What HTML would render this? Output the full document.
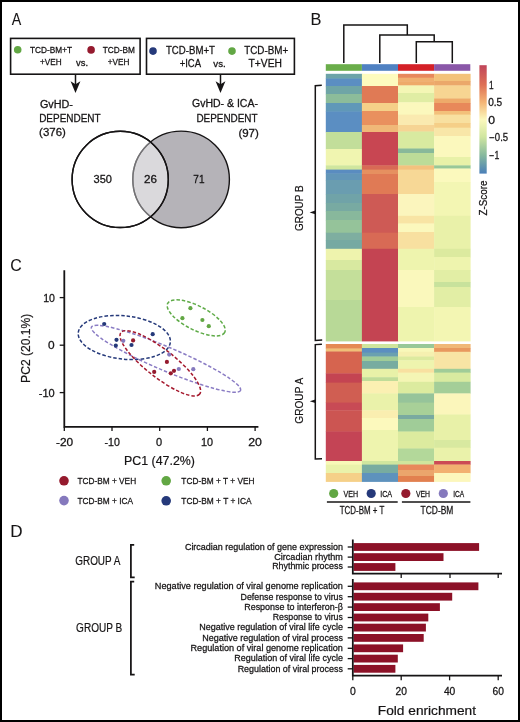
<!DOCTYPE html>
<html><head><meta charset="utf-8"><style>
html,body{margin:0;padding:0;background:#fff;}
svg{display:block;will-change:transform;}
text{font-family:"Liberation Sans",sans-serif;fill:#161415;stroke:#161415;}
</style></head><body>
<svg width="520" height="722" viewBox="0 0 520 722">
<rect x="1" y="1" width="518" height="720" fill="#fff" stroke="#000" stroke-width="2"/>
<text x="11.75" y="24.8" font-size="16" stroke-width="0.08" text-anchor="start" textLength="9.49" lengthAdjust="spacingAndGlyphs">A</text>
<rect x="10.6" y="38.4" width="129.5" height="35.8" fill="none" stroke="#161415" stroke-width="1.6"/>
<circle cx="17.7" cy="49.8" r="3.8" fill="#62a744"/>
<text x="30.00" y="53.4" font-size="9" stroke-width="0.26" text-anchor="start" textLength="42.00" lengthAdjust="spacingAndGlyphs">TCD-BM+T</text>
<text x="40.07" y="64.6" font-size="9" stroke-width="0.26" text-anchor="start" textLength="21.56" lengthAdjust="spacingAndGlyphs">+VEH</text>
<text x="76.11" y="66.3" font-size="9" stroke-width="0.26" text-anchor="start" textLength="12.05" lengthAdjust="spacingAndGlyphs">vs.</text>
<circle cx="91.1" cy="49.9" r="3.8" fill="#951a2e"/>
<text x="102.67" y="53.4" font-size="9" stroke-width="0.26" text-anchor="start" textLength="32.12" lengthAdjust="spacingAndGlyphs">TCD-BM</text>
<text x="107.76" y="64.6" font-size="9" stroke-width="0.26" text-anchor="start" textLength="21.61" lengthAdjust="spacingAndGlyphs">+VEH</text>
<rect x="146.5" y="38.4" width="147.9" height="35.8" fill="none" stroke="#161415" stroke-width="1.6"/>
<circle cx="153.0" cy="51.1" r="3.8" fill="#25397a"/>
<text x="166.00" y="53.7" font-size="10" stroke-width="0.26" text-anchor="start" textLength="48.90" lengthAdjust="spacingAndGlyphs">TCD-BM+T</text>
<text x="179.64" y="67.2" font-size="10" stroke-width="0.26" text-anchor="start" textLength="21.36" lengthAdjust="spacingAndGlyphs">+ICA</text>
<text x="213.30" y="67.0" font-size="9" stroke-width="0.26" text-anchor="start" textLength="12.42" lengthAdjust="spacingAndGlyphs">vs.</text>
<circle cx="232.0" cy="51.1" r="3.8" fill="#62a744"/>
<text x="244.26" y="53.7" font-size="10" stroke-width="0.26" text-anchor="start" textLength="44.00" lengthAdjust="spacingAndGlyphs">TCD-BM+</text>
<text x="248.59" y="67.2" font-size="10" stroke-width="0.26" text-anchor="start" textLength="33.40" lengthAdjust="spacingAndGlyphs">T+VEH</text>
<line x1="75.5" y1="74.0" x2="75.5" y2="87.0" stroke="#161415" stroke-width="1.5"/>
<path d="M70.6,81.2 L75.5,92.9 L80.4,81.2 L75.5,84.3 Z" fill="#161415"/>
<line x1="220.5" y1="74.0" x2="220.5" y2="87.0" stroke="#161415" stroke-width="1.5"/>
<path d="M215.6,81.2 L220.5,92.9 L225.4,81.2 L220.5,84.3 Z" fill="#161415"/>
<text x="39.92" y="107.7" font-size="10" stroke-width="0.26" text-anchor="start" textLength="33.03" lengthAdjust="spacingAndGlyphs">GvHD-</text>
<text x="39.16" y="121.7" font-size="10" stroke-width="0.26" text-anchor="start" textLength="61.51" lengthAdjust="spacingAndGlyphs">DEPENDENT</text>
<text x="39.14" y="135.8" font-size="10" stroke-width="0.26" text-anchor="start" textLength="26.69" lengthAdjust="spacingAndGlyphs">(376)</text>
<text x="192.06" y="107.3" font-size="10" stroke-width="0.26" text-anchor="start" textLength="65.91" lengthAdjust="spacingAndGlyphs">GvHD- &amp; ICA-</text>
<text x="196.41" y="121.5" font-size="10" stroke-width="0.26" text-anchor="start" textLength="61.14" lengthAdjust="spacingAndGlyphs">DEPENDENT</text>
<text x="238.40" y="136.5" font-size="10" stroke-width="0.26" text-anchor="start" textLength="20.48" lengthAdjust="spacingAndGlyphs">(97)</text>
<circle cx="181.1" cy="179.4" r="48.3" fill="#b5b3b8" stroke="#161415" stroke-width="1.4"/>
<circle cx="120.2" cy="179.4" r="48.1" fill="#fff" fill-opacity="0.5" stroke="#161415" stroke-width="1.4"/>
<defs><clipPath id="cl"><circle cx="120.2" cy="179.4" r="48.1"/></clipPath></defs>
<circle cx="181.1" cy="179.4" r="48.3" fill="none" stroke="#737275" stroke-width="1.4" clip-path="url(#cl)"/>
<circle cx="120.2" cy="179.4" r="48.1" fill="none" stroke="#161415" stroke-width="1.4"/>
<text x="93.55" y="183.3" font-size="10" stroke-width="0.26" text-anchor="start" textLength="18.40" lengthAdjust="spacingAndGlyphs">350</text>
<text x="144.13" y="183.4" font-size="10" stroke-width="0.26" text-anchor="start" textLength="12.92" lengthAdjust="spacingAndGlyphs">26</text>
<text x="193.33" y="183.0" font-size="10" stroke-width="0.26" text-anchor="start" textLength="11.12" lengthAdjust="spacingAndGlyphs">71</text>
<text x="310.52" y="24.8" font-size="16" stroke-width="0.08" text-anchor="start" textLength="10.91" lengthAdjust="spacingAndGlyphs">B</text>
<polyline points="343.8,63.0 343.8,25.1 407.3,25.1 407.3,35.1" fill="none" stroke="#161415" stroke-width="1.5" stroke-linejoin="miter"/>
<polyline points="379.8,63.0 379.8,35.1 434.2,35.1 434.2,41.8" fill="none" stroke="#161415" stroke-width="1.5" stroke-linejoin="miter"/>
<polyline points="416.3,63.0 416.3,41.8 452.3,41.8 452.3,63.0" fill="none" stroke="#161415" stroke-width="1.5" stroke-linejoin="miter"/>
<rect x="325.8" y="64.2" width="36.1" height="6.6" fill="#6aad4a"/>
<rect x="361.9" y="64.2" width="36.1" height="6.6" fill="#4f81c2"/>
<rect x="398.0" y="64.2" width="36.1" height="6.6" fill="#d42027"/>
<rect x="434.1" y="64.2" width="36.2" height="6.6" fill="#8a57a8"/>
<rect x="325.8" y="73.8" width="36.4" height="5.1" fill="#6da3a8"/>
<rect x="325.8" y="78.5" width="36.4" height="7.9" fill="#5b8ec2"/>
<rect x="325.8" y="86.0" width="36.4" height="8.4" fill="#6fa5a6"/>
<rect x="325.8" y="94.0" width="36.4" height="9.4" fill="#8cbc9a"/>
<rect x="325.8" y="103.0" width="36.4" height="8.9" fill="#6098b8"/>
<rect x="325.8" y="111.5" width="36.4" height="20.9" fill="#5b8ec2"/>
<rect x="325.8" y="132.0" width="36.4" height="17.4" fill="#c2de9a"/>
<rect x="325.8" y="149.0" width="36.4" height="16.8" fill="#f0f5b0"/>
<rect x="325.8" y="165.4" width="36.4" height="4.6" fill="#d0e69e"/>
<rect x="325.8" y="169.6" width="36.4" height="4.3" fill="#5a8cc0"/>
<rect x="325.8" y="173.5" width="36.4" height="6.9" fill="#6296b8"/>
<rect x="325.8" y="180.0" width="36.4" height="14.4" fill="#6a9db0"/>
<rect x="325.8" y="194.0" width="36.4" height="9.4" fill="#70a3a8"/>
<rect x="325.8" y="203.0" width="36.4" height="8.4" fill="#78aaa2"/>
<rect x="325.8" y="211.0" width="36.4" height="9.4" fill="#88b89c"/>
<rect x="325.8" y="220.0" width="36.4" height="13.1" fill="#95c39a"/>
<rect x="325.8" y="232.7" width="36.4" height="7.7" fill="#7eaea0"/>
<rect x="325.8" y="240.0" width="36.4" height="9.2" fill="#76a9a2"/>
<rect x="325.8" y="248.8" width="36.4" height="11.6" fill="#eef3ad"/>
<rect x="325.8" y="260.0" width="36.4" height="10.4" fill="#d8e9a0"/>
<rect x="325.8" y="270.0" width="36.4" height="30.4" fill="#c4df9a"/>
<rect x="325.8" y="300.0" width="36.4" height="41.4" fill="#b8d997"/>
<rect x="325.8" y="344.0" width="36.4" height="4.9" fill="#e58a55"/>
<rect x="325.8" y="348.5" width="36.4" height="3.4" fill="#f0c078"/>
<rect x="325.8" y="351.5" width="36.4" height="22.3" fill="#d6644f"/>
<rect x="325.8" y="373.4" width="36.4" height="9.6" fill="#c44452"/>
<rect x="325.8" y="382.6" width="36.4" height="20.4" fill="#d05e52"/>
<rect x="325.8" y="402.6" width="36.4" height="8.1" fill="#c84a55"/>
<rect x="325.8" y="410.3" width="36.4" height="21.6" fill="#cc5552"/>
<rect x="325.8" y="431.5" width="36.4" height="29.9" fill="#c44455"/>
<rect x="325.8" y="461.0" width="36.4" height="4.0" fill="#f8f8b8"/>
<rect x="325.8" y="464.6" width="36.4" height="8.8" fill="#eaf2aa"/>
<rect x="325.8" y="473.0" width="36.4" height="8.9" fill="#f5d088"/>
<rect x="361.9" y="73.8" width="36.4" height="12.6" fill="#fdfbbe"/>
<rect x="361.9" y="86.0" width="36.4" height="17.4" fill="#e07a55"/>
<rect x="361.9" y="103.0" width="36.4" height="8.4" fill="#f5d088"/>
<rect x="361.9" y="111.0" width="36.4" height="14.4" fill="#e9905e"/>
<rect x="361.9" y="125.0" width="36.4" height="7.4" fill="#f0b878"/>
<rect x="361.9" y="132.0" width="36.4" height="33.8" fill="#c84652"/>
<rect x="361.9" y="165.4" width="36.4" height="4.6" fill="#d86a55"/>
<rect x="361.9" y="169.6" width="36.4" height="4.8" fill="#e69060"/>
<rect x="361.9" y="174.0" width="36.4" height="20.4" fill="#e07a55"/>
<rect x="361.9" y="194.0" width="36.4" height="39.1" fill="#ce5a55"/>
<rect x="361.9" y="232.7" width="36.4" height="16.5" fill="#d86a55"/>
<rect x="361.9" y="248.8" width="36.4" height="92.6" fill="#c44452"/>
<rect x="361.9" y="344.0" width="36.4" height="4.4" fill="#cfe59c"/>
<rect x="361.9" y="348.0" width="36.4" height="5.0" fill="#5b8ec0"/>
<rect x="361.9" y="352.6" width="36.4" height="4.3" fill="#6aa0b0"/>
<rect x="361.9" y="356.5" width="36.4" height="4.9" fill="#a0cc98"/>
<rect x="361.9" y="361.0" width="36.4" height="8.2" fill="#78aca0"/>
<rect x="361.9" y="368.8" width="36.4" height="8.8" fill="#e8f1a8"/>
<rect x="361.9" y="377.2" width="36.4" height="4.2" fill="#c0dc98"/>
<rect x="361.9" y="381.0" width="36.4" height="12.8" fill="#fbf0b2"/>
<rect x="361.9" y="393.4" width="36.4" height="17.3" fill="#eaf2aa"/>
<rect x="361.9" y="410.3" width="36.4" height="8.1" fill="#faeeb0"/>
<rect x="361.9" y="418.0" width="36.4" height="12.4" fill="#fcf9bd"/>
<rect x="361.9" y="430.0" width="36.4" height="31.4" fill="#eef4ae"/>
<rect x="361.9" y="461.0" width="36.4" height="4.0" fill="#d0e69e"/>
<rect x="361.9" y="464.6" width="36.4" height="8.8" fill="#78aca0"/>
<rect x="361.9" y="473.0" width="36.4" height="8.9" fill="#5e92bd"/>
<rect x="398.0" y="73.8" width="36.4" height="4.3" fill="#e8885c"/>
<rect x="398.0" y="77.7" width="36.4" height="4.2" fill="#f0b070"/>
<rect x="398.0" y="81.5" width="36.4" height="4.3" fill="#eeaa6a"/>
<rect x="398.0" y="85.4" width="36.4" height="8.0" fill="#f4f6b5"/>
<rect x="398.0" y="93.0" width="36.4" height="9.7" fill="#e0eda4"/>
<rect x="398.0" y="102.3" width="36.4" height="12.7" fill="#fbf8bd"/>
<rect x="398.0" y="114.6" width="36.4" height="10.8" fill="#faeab0"/>
<rect x="398.0" y="125.0" width="36.4" height="6.9" fill="#f6d494"/>
<rect x="398.0" y="131.5" width="36.4" height="17.4" fill="#d8eaa0"/>
<rect x="398.0" y="148.5" width="36.4" height="4.9" fill="#88b99a"/>
<rect x="398.0" y="153.0" width="36.4" height="12.8" fill="#bcdc98"/>
<rect x="398.0" y="165.4" width="36.4" height="4.6" fill="#f3c27e"/>
<rect x="398.0" y="169.6" width="36.4" height="24.8" fill="#f7d896"/>
<rect x="398.0" y="194.0" width="36.4" height="22.2" fill="#fbf5bd"/>
<rect x="398.0" y="215.8" width="36.4" height="8.1" fill="#f8e4a4"/>
<rect x="398.0" y="223.5" width="36.4" height="8.9" fill="#fbf8bd"/>
<rect x="398.0" y="232.0" width="36.4" height="17.2" fill="#f8e0a0"/>
<rect x="398.0" y="248.8" width="36.4" height="21.6" fill="#eef4ae"/>
<rect x="398.0" y="270.0" width="36.4" height="37.4" fill="#faf8bc"/>
<rect x="398.0" y="307.0" width="36.4" height="34.4" fill="#eef4ae"/>
<rect x="398.0" y="344.0" width="36.4" height="4.4" fill="#98c898"/>
<rect x="398.0" y="348.0" width="36.4" height="4.2" fill="#f8f8ba"/>
<rect x="398.0" y="351.8" width="36.4" height="5.1" fill="#f5f0b0"/>
<rect x="398.0" y="356.5" width="36.4" height="4.2" fill="#dcea9f"/>
<rect x="398.0" y="360.3" width="36.4" height="8.9" fill="#eef4ae"/>
<rect x="398.0" y="368.8" width="36.4" height="4.2" fill="#f8e0a0"/>
<rect x="398.0" y="372.6" width="36.4" height="9.6" fill="#f4f5b4"/>
<rect x="398.0" y="381.8" width="36.4" height="12.0" fill="#dceb9f"/>
<rect x="398.0" y="393.4" width="36.4" height="9.6" fill="#96c49a"/>
<rect x="398.0" y="402.6" width="36.4" height="12.8" fill="#a8d098"/>
<rect x="398.0" y="415.0" width="36.4" height="4.4" fill="#7aaaa0"/>
<rect x="398.0" y="419.0" width="36.4" height="12.9" fill="#a0cc98"/>
<rect x="398.0" y="431.5" width="36.4" height="17.4" fill="#dceb9f"/>
<rect x="398.0" y="448.5" width="36.4" height="12.9" fill="#b3d89a"/>
<rect x="398.0" y="461.0" width="36.4" height="3.9" fill="#cfe59c"/>
<rect x="398.0" y="464.5" width="36.4" height="5.9" fill="#e8885a"/>
<rect x="398.0" y="470.0" width="36.4" height="6.4" fill="#eba56c"/>
<rect x="398.0" y="476.0" width="36.4" height="5.9" fill="#e2804f"/>
<rect x="434.1" y="73.8" width="36.5" height="7.6" fill="#f3c27a"/>
<rect x="434.1" y="81.0" width="36.5" height="4.8" fill="#eba86a"/>
<rect x="434.1" y="85.4" width="36.5" height="13.5" fill="#f7d592"/>
<rect x="434.1" y="98.5" width="36.5" height="4.9" fill="#eeaa6a"/>
<rect x="434.1" y="103.0" width="36.5" height="8.4" fill="#e8885a"/>
<rect x="434.1" y="111.0" width="36.5" height="4.0" fill="#f3c07a"/>
<rect x="434.1" y="114.6" width="36.5" height="8.8" fill="#f8e0a0"/>
<rect x="434.1" y="123.0" width="36.5" height="5.1" fill="#f5cf88"/>
<rect x="434.1" y="127.7" width="36.5" height="8.7" fill="#f8e6a8"/>
<rect x="434.1" y="136.0" width="36.5" height="21.4" fill="#fbf8bd"/>
<rect x="434.1" y="157.0" width="36.5" height="8.8" fill="#e8f1a8"/>
<rect x="434.1" y="165.4" width="36.5" height="3.5" fill="#98c898"/>
<rect x="434.1" y="168.5" width="36.5" height="13.9" fill="#fbf9bd"/>
<rect x="434.1" y="182.0" width="36.5" height="34.2" fill="#f3f6b3"/>
<rect x="434.1" y="215.8" width="36.5" height="33.4" fill="#e9f1a9"/>
<rect x="434.1" y="248.8" width="36.5" height="8.6" fill="#dcea9f"/>
<rect x="434.1" y="257.0" width="36.5" height="13.4" fill="#eef4ae"/>
<rect x="434.1" y="270.0" width="36.5" height="12.4" fill="#e2eea5"/>
<rect x="434.1" y="282.0" width="36.5" height="5.4" fill="#c8e29c"/>
<rect x="434.1" y="287.0" width="36.5" height="20.4" fill="#e2eea5"/>
<rect x="434.1" y="307.0" width="36.5" height="34.4" fill="#f3f6b3"/>
<rect x="434.1" y="344.0" width="36.5" height="4.4" fill="#f0b878"/>
<rect x="434.1" y="348.0" width="36.5" height="4.2" fill="#e8985e"/>
<rect x="434.1" y="351.8" width="36.5" height="17.4" fill="#f8e4a4"/>
<rect x="434.1" y="368.8" width="36.5" height="4.2" fill="#a0cc98"/>
<rect x="434.1" y="372.6" width="36.5" height="9.6" fill="#d8eaa0"/>
<rect x="434.1" y="381.8" width="36.5" height="12.0" fill="#a4ce98"/>
<rect x="434.1" y="393.4" width="36.5" height="21.5" fill="#fbf6bb"/>
<rect x="434.1" y="414.5" width="36.5" height="25.9" fill="#e8f1a8"/>
<rect x="434.1" y="440.0" width="36.5" height="8.1" fill="#d8e9a0"/>
<rect x="434.1" y="447.7" width="36.5" height="13.7" fill="#eaf2aa"/>
<rect x="434.1" y="461.0" width="36.5" height="3.9" fill="#cc4a55"/>
<rect x="434.1" y="464.5" width="36.5" height="8.9" fill="#f2b070"/>
<rect x="434.1" y="473.0" width="36.5" height="8.9" fill="#fcf7bc"/>
<defs><linearGradient id="zg" x1="0" y1="0" x2="0" y2="1"><stop offset="0" stop-color="#c0455a"/><stop offset="0.18" stop-color="#de7055"/><stop offset="0.34" stop-color="#f4b475"/><stop offset="0.5" stop-color="#fbf8bc"/><stop offset="0.66" stop-color="#d0e6a0"/><stop offset="0.83" stop-color="#86b99d"/><stop offset="1" stop-color="#4a7fb8"/></linearGradient></defs>
<rect x="479.4" y="65.2" width="7.3" height="108.4" fill="url(#zg)"/>
<text x="488.97" y="89.0" font-size="10" stroke-width="0.26" text-anchor="start" textLength="4.61" lengthAdjust="spacingAndGlyphs">1</text>
<text x="488.20" y="106.3" font-size="10" stroke-width="0.26" text-anchor="start" textLength="14.01" lengthAdjust="spacingAndGlyphs">0.5</text>
<text x="488.20" y="123.8" font-size="10" stroke-width="0.26" text-anchor="start" textLength="6.77" lengthAdjust="spacingAndGlyphs">0</text>
<text x="489.25" y="141.1" font-size="10" stroke-width="0.26" text-anchor="start" textLength="18.85" lengthAdjust="spacingAndGlyphs">−0.5</text>
<text x="489.31" y="158.5" font-size="10" stroke-width="0.26" text-anchor="start" textLength="9.93" lengthAdjust="spacingAndGlyphs">−1</text>
<text font-size="10" stroke-width="0.26" transform="translate(486.5,215.4) rotate(-90)" textLength="34.8" lengthAdjust="spacingAndGlyphs">Z-Score</text>
<polyline points="321.8,85.2 315.3,85.7 315.3,340.4 322.2,340.0" fill="none" stroke="#161415" stroke-width="1.5" stroke-linejoin="miter"/>
<path d="M315.3,210.6 L309.6,212.4 L315.3,214.2 Z" fill="#161415"/>
<polyline points="321.9,344.2 315.3,344.6 315.3,459.0 322.0,458.7" fill="none" stroke="#161415" stroke-width="1.5" stroke-linejoin="miter"/>
<path d="M315.3,399.4 L309.8,401.2 L315.3,403 Z" fill="#161415"/>
<text font-size="11" stroke-width="0.2" transform="translate(302.7,230.9) rotate(-90)" textLength="45.4" lengthAdjust="spacingAndGlyphs">GROUP B</text>
<text font-size="11" stroke-width="0.2" transform="translate(303,423.7) rotate(-90)" textLength="45.9" lengthAdjust="spacingAndGlyphs">GROUP A</text>
<circle cx="333.7" cy="493.5" r="4.6" fill="#62a744"/>
<text x="343.48" y="496.9" font-size="9" stroke-width="0.26" text-anchor="start" textLength="14.63" lengthAdjust="spacingAndGlyphs">VEH</text>
<circle cx="371.2" cy="493.5" r="4.6" fill="#25397a"/>
<text x="380.18" y="496.9" font-size="9" stroke-width="0.26" text-anchor="start" textLength="12.01" lengthAdjust="spacingAndGlyphs">ICA</text>
<circle cx="405.8" cy="493.5" r="4.6" fill="#951a2e"/>
<text x="416.00" y="496.9" font-size="9" stroke-width="0.26" text-anchor="start" textLength="14.07" lengthAdjust="spacingAndGlyphs">VEH</text>
<circle cx="443.3" cy="493.5" r="4.6" fill="#8579bd"/>
<text x="453.23" y="496.9" font-size="9" stroke-width="0.26" text-anchor="start" textLength="11.01" lengthAdjust="spacingAndGlyphs">ICA</text>
<line x1="326.9" y1="502.1" x2="397.7" y2="502.1" stroke="#161415" stroke-width="1.5"/>
<line x1="401.9" y1="502.1" x2="470.4" y2="502.1" stroke="#161415" stroke-width="1.5"/>
<text x="339.68" y="513.7" font-size="10" stroke-width="0.26" text-anchor="start" textLength="44.66" lengthAdjust="spacingAndGlyphs">TCD-BM + T</text>
<text x="420.62" y="513.7" font-size="10" stroke-width="0.26" text-anchor="start" textLength="32.73" lengthAdjust="spacingAndGlyphs">TCD-BM</text>
<text x="10.30" y="270.8" font-size="16" stroke-width="0.08" text-anchor="start" textLength="11.49" lengthAdjust="spacingAndGlyphs">C</text>
<polyline points="64.3,270.2 64.3,426.8 258.4,426.8" fill="none" stroke="#161415" stroke-width="1.8" stroke-linejoin="miter"/>
<line x1="59.7" y1="297.6" x2="64.2" y2="297.6" stroke="#161415" stroke-width="1.3"/>
<text x="43.22" y="301.6" font-size="10.5" stroke-width="0.26" text-anchor="start" textLength="11.78" lengthAdjust="spacingAndGlyphs">10</text>
<line x1="59.7" y1="345.2" x2="64.2" y2="345.2" stroke="#161415" stroke-width="1.3"/>
<text x="48.14" y="349.2" font-size="10.5" stroke-width="0.26" text-anchor="start" textLength="6.62" lengthAdjust="spacingAndGlyphs">0</text>
<line x1="59.7" y1="392.6" x2="64.2" y2="392.6" stroke="#161415" stroke-width="1.3"/>
<text x="38.76" y="396.6" font-size="10.5" stroke-width="0.26" text-anchor="start" textLength="15.97" lengthAdjust="spacingAndGlyphs">-10</text>
<line x1="64.3" y1="426.8" x2="64.3" y2="431.0" stroke="#161415" stroke-width="1.3"/>
<text x="55.96" y="445.8" font-size="10.5" stroke-width="0.26" text-anchor="start" textLength="17.17" lengthAdjust="spacingAndGlyphs">-20</text>
<line x1="112.0" y1="426.8" x2="112.0" y2="431.0" stroke="#161415" stroke-width="1.3"/>
<text x="104.48" y="445.8" font-size="10.5" stroke-width="0.26" text-anchor="start" textLength="15.36" lengthAdjust="spacingAndGlyphs">-10</text>
<line x1="159.7" y1="426.8" x2="159.7" y2="431.0" stroke="#161415" stroke-width="1.3"/>
<text x="156.07" y="445.8" font-size="10.5" stroke-width="0.26" text-anchor="start" textLength="6.13" lengthAdjust="spacingAndGlyphs">0</text>
<line x1="207.4" y1="426.8" x2="207.4" y2="431.0" stroke="#161415" stroke-width="1.3"/>
<text x="200.92" y="445.8" font-size="10.5" stroke-width="0.26" text-anchor="start" textLength="12.05" lengthAdjust="spacingAndGlyphs">10</text>
<line x1="255.1" y1="426.8" x2="255.1" y2="431.0" stroke="#161415" stroke-width="1.3"/>
<text x="248.25" y="445.8" font-size="10.5" stroke-width="0.26" text-anchor="start" textLength="13.72" lengthAdjust="spacingAndGlyphs">20</text>
<text x="124.01" y="465.2" font-size="13" stroke-width="0.2" text-anchor="start" textLength="70.94" lengthAdjust="spacingAndGlyphs">PC1 (47.2%)</text>
<text font-size="13" stroke-width="0.2" transform="translate(30,382.9) rotate(-90)" textLength="69.2" lengthAdjust="spacingAndGlyphs">PC2 (20.1%)</text>
<ellipse cx="196.2" cy="317.9" rx="32" ry="12" transform="rotate(27 196.2 317.9)" fill="none" stroke="#5fab48" stroke-width="1.5" stroke-dasharray="3.5 2"/>
<ellipse cx="124.3" cy="337.5" rx="46.3" ry="21.6" transform="rotate(6 124.3 337.5)" fill="none" stroke="#25397a" stroke-width="1.5" stroke-dasharray="3.5 2"/>
<ellipse cx="166" cy="358.8" rx="81" ry="11.8" transform="rotate(23 166 358.8)" fill="none" stroke="#8a7cc4" stroke-width="1.5" stroke-dasharray="3.5 2"/>
<ellipse cx="160.3" cy="363.3" rx="50" ry="14" transform="rotate(38 160.3 363.3)" fill="none" stroke="#a5192e" stroke-width="1.5" stroke-dasharray="3.5 2"/>
<circle cx="190.4" cy="308.2" r="2.1" fill="#62a744"/>
<circle cx="182.4" cy="318.2" r="2.1" fill="#62a744"/>
<circle cx="202.4" cy="320.0" r="2.1" fill="#62a744"/>
<circle cx="208.8" cy="326.2" r="2.1" fill="#62a744"/>
<circle cx="104.2" cy="324.0" r="2.1" fill="#25397a"/>
<circle cx="152.7" cy="334.2" r="2.1" fill="#25397a"/>
<circle cx="116.5" cy="339.8" r="2.1" fill="#25397a"/>
<circle cx="115.8" cy="345.6" r="2.1" fill="#25397a"/>
<circle cx="131.5" cy="345.0" r="2.1" fill="#25397a"/>
<circle cx="123.3" cy="340.8" r="2.1" fill="#8579bd"/>
<circle cx="169.2" cy="354.6" r="2.1" fill="#8579bd"/>
<circle cx="178.8" cy="369.0" r="2.1" fill="#8579bd"/>
<circle cx="193.3" cy="369.2" r="2.1" fill="#8579bd"/>
<circle cx="133.1" cy="340.4" r="2.1" fill="#951a2e"/>
<circle cx="166.9" cy="361.9" r="2.1" fill="#951a2e"/>
<circle cx="154.2" cy="371.9" r="2.1" fill="#951a2e"/>
<circle cx="170.8" cy="373.3" r="2.1" fill="#951a2e"/>
<circle cx="174.0" cy="370.8" r="2.1" fill="#951a2e"/>
<circle cx="64.0" cy="480.8" r="4.8" fill="#951a2e"/>
<text x="77.40" y="484.0" font-size="9.6" stroke-width="0.26" text-anchor="start" textLength="58.73" lengthAdjust="spacingAndGlyphs">TCD-BM + VEH</text>
<circle cx="64.0" cy="500.6" r="4.8" fill="#8579bd"/>
<text x="77.42" y="503.8" font-size="9.6" stroke-width="0.26" text-anchor="start" textLength="55.58" lengthAdjust="spacingAndGlyphs">TCD-BM + ICA</text>
<circle cx="166.2" cy="480.8" r="4.8" fill="#62a744"/>
<text x="181.33" y="484.0" font-size="9.6" stroke-width="0.26" text-anchor="start" textLength="73.16" lengthAdjust="spacingAndGlyphs">TCD-BM + T + VEH</text>
<circle cx="166.2" cy="500.8" r="4.8" fill="#25397a"/>
<text x="181.34" y="503.8" font-size="9.6" stroke-width="0.26" text-anchor="start" textLength="70.18" lengthAdjust="spacingAndGlyphs">TCD-BM + T + ICA</text>
<text x="10.16" y="537.3" font-size="16" stroke-width="0.08" text-anchor="start" textLength="12.32" lengthAdjust="spacingAndGlyphs">D</text>
<text x="75.26" y="565.3" font-size="12" stroke-width="0.2" text-anchor="start" textLength="45.04" lengthAdjust="spacingAndGlyphs">GROUP A</text>
<text x="76.09" y="631.5" font-size="12" stroke-width="0.2" text-anchor="start" textLength="46.10" lengthAdjust="spacingAndGlyphs">GROUP B</text>
<polyline points="134.2,544.9 130.9,544.9 130.9,577.3 134.7,577.3" fill="none" stroke="#161415" stroke-width="1.75" stroke-linejoin="miter"/>
<polyline points="134.2,581.6 130.9,581.6 130.9,674.5 134.7,674.5" fill="none" stroke="#161415" stroke-width="1.75" stroke-linejoin="miter"/>
<text x="184.91" y="550.2" font-size="9.2" stroke-width="0.26" text-anchor="start" textLength="157.96" lengthAdjust="spacingAndGlyphs">Circadian regulation of gene expression</text>
<line x1="347.7" y1="547.0" x2="352.8" y2="547.0" stroke="#161415" stroke-width="1.3"/>
<rect x="353.5" y="543.1" width="125.6" height="7.8" fill="#8c1127"/>
<text x="274.24" y="559.8" font-size="9.2" stroke-width="0.26" text-anchor="start" textLength="68.63" lengthAdjust="spacingAndGlyphs">Circadian rhythm</text>
<line x1="347.7" y1="557.1" x2="352.8" y2="557.1" stroke="#161415" stroke-width="1.3"/>
<rect x="353.5" y="553.2" width="90.0" height="7.8" fill="#8c1127"/>
<text x="272.14" y="569.4" font-size="9.2" stroke-width="0.26" text-anchor="start" textLength="70.73" lengthAdjust="spacingAndGlyphs">Rhythmic process</text>
<line x1="347.7" y1="567.0" x2="352.8" y2="567.0" stroke="#161415" stroke-width="1.3"/>
<rect x="353.5" y="563.1" width="41.9" height="7.8" fill="#8c1127"/>
<text x="154.84" y="589.2" font-size="9.5" stroke-width="0.26" text-anchor="start" textLength="188.05" lengthAdjust="spacingAndGlyphs">Negative regulation of viral genome replication</text>
<line x1="347.7" y1="586.3" x2="352.8" y2="586.3" stroke="#161415" stroke-width="1.3"/>
<rect x="353.5" y="582.4" width="124.9" height="7.8" fill="#8c1127"/>
<text x="240.53" y="599.5" font-size="9.5" stroke-width="0.26" text-anchor="start" textLength="102.37" lengthAdjust="spacingAndGlyphs">Defense response to virus</text>
<line x1="347.7" y1="596.7" x2="352.8" y2="596.7" stroke="#161415" stroke-width="1.3"/>
<rect x="353.5" y="592.8" width="98.7" height="7.8" fill="#8c1127"/>
<text x="244.19" y="609.8" font-size="9.5" stroke-width="0.26" text-anchor="start" textLength="98.72" lengthAdjust="spacingAndGlyphs">Response to interferon-β</text>
<line x1="347.7" y1="607.1" x2="352.8" y2="607.1" stroke="#161415" stroke-width="1.3"/>
<rect x="353.5" y="603.2" width="86.4" height="7.8" fill="#8c1127"/>
<text x="272.80" y="620.1" font-size="9.5" stroke-width="0.26" text-anchor="start" textLength="70.08" lengthAdjust="spacingAndGlyphs">Response to virus</text>
<line x1="347.7" y1="617.5" x2="352.8" y2="617.5" stroke="#161415" stroke-width="1.3"/>
<rect x="353.5" y="613.6" width="74.8" height="7.8" fill="#8c1127"/>
<text x="199.19" y="630.4" font-size="9.5" stroke-width="0.26" text-anchor="start" textLength="143.72" lengthAdjust="spacingAndGlyphs">Negative regulation of viral life cycle</text>
<line x1="347.7" y1="627.6" x2="352.8" y2="627.6" stroke="#161415" stroke-width="1.3"/>
<rect x="353.5" y="623.7" width="72.4" height="7.8" fill="#8c1127"/>
<text x="202.19" y="640.7" font-size="9.5" stroke-width="0.26" text-anchor="start" textLength="140.72" lengthAdjust="spacingAndGlyphs">Negative regulation of viral process</text>
<line x1="347.7" y1="637.9" x2="352.8" y2="637.9" stroke="#161415" stroke-width="1.3"/>
<rect x="353.5" y="634.0" width="70.2" height="7.8" fill="#8c1127"/>
<text x="190.54" y="651.0" font-size="9.5" stroke-width="0.26" text-anchor="start" textLength="152.33" lengthAdjust="spacingAndGlyphs">Regulation of viral genome replication</text>
<line x1="347.7" y1="648.3" x2="352.8" y2="648.3" stroke="#161415" stroke-width="1.3"/>
<rect x="353.5" y="644.4" width="49.6" height="7.8" fill="#8c1127"/>
<text x="234.27" y="661.3" font-size="9.5" stroke-width="0.26" text-anchor="start" textLength="108.60" lengthAdjust="spacingAndGlyphs">Regulation of viral life cycle</text>
<line x1="347.7" y1="658.6" x2="352.8" y2="658.6" stroke="#161415" stroke-width="1.3"/>
<rect x="353.5" y="654.7" width="44.3" height="7.8" fill="#8c1127"/>
<text x="237.67" y="671.6" font-size="9.5" stroke-width="0.26" text-anchor="start" textLength="105.22" lengthAdjust="spacingAndGlyphs">Regulation of viral process</text>
<line x1="347.7" y1="668.8" x2="352.8" y2="668.8" stroke="#161415" stroke-width="1.3"/>
<rect x="353.5" y="664.9" width="41.9" height="7.8" fill="#8c1127"/>
<polyline points="352.8,539.6 352.8,573.6 502.0,573.6" fill="none" stroke="#161415" stroke-width="1.75" stroke-linejoin="miter"/>
<line x1="401.2" y1="573.6" x2="401.2" y2="578.0" stroke="#161415" stroke-width="1.3"/>
<line x1="450.0" y1="573.6" x2="450.0" y2="578.0" stroke="#161415" stroke-width="1.3"/>
<line x1="498.2" y1="573.6" x2="498.2" y2="578.0" stroke="#161415" stroke-width="1.3"/>
<polyline points="352.8,579.0 352.8,675.7 502.0,675.7" fill="none" stroke="#161415" stroke-width="1.75" stroke-linejoin="miter"/>
<line x1="352.8" y1="675.7" x2="352.8" y2="680.3" stroke="#161415" stroke-width="1.3"/>
<text x="349.90" y="695.0" font-size="10" stroke-width="0.26" text-anchor="start" textLength="5.80" lengthAdjust="spacingAndGlyphs">0</text>
<line x1="401.2" y1="675.7" x2="401.2" y2="680.3" stroke="#161415" stroke-width="1.3"/>
<text x="395.50" y="695.0" font-size="10" stroke-width="0.26" text-anchor="start" textLength="11.40" lengthAdjust="spacingAndGlyphs">20</text>
<line x1="449.6" y1="675.7" x2="449.6" y2="680.3" stroke="#161415" stroke-width="1.3"/>
<text x="443.90" y="695.0" font-size="10" stroke-width="0.26" text-anchor="start" textLength="11.40" lengthAdjust="spacingAndGlyphs">40</text>
<line x1="498.2" y1="675.7" x2="498.2" y2="680.3" stroke="#161415" stroke-width="1.3"/>
<text x="492.50" y="695.0" font-size="10" stroke-width="0.26" text-anchor="start" textLength="11.40" lengthAdjust="spacingAndGlyphs">60</text>
<text x="377.83" y="714.6" font-size="12.5" stroke-width="0.2" text-anchor="start" textLength="98.17" lengthAdjust="spacingAndGlyphs">Fold enrichment</text>
</svg>
</body></html>
